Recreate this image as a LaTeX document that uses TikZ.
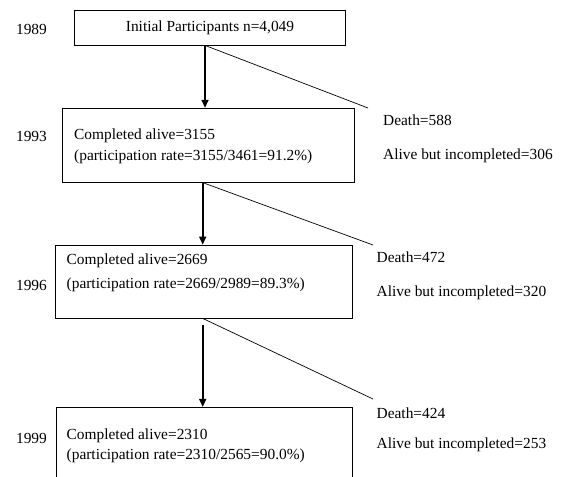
\documentclass[tikz,border=0pt]{standalone}
\usepackage{fontspec}
\setmainfont{Liberation Serif}
\usetikzlibrary{calc,arrows.meta}

\begin{document}
\begin{tikzpicture}[x=1pt,y=-1pt,font=\fontsize{15.4}{18.6}\selectfont]
      \useasboundingbox (0,0) rectangle (563,477);
      \clip (0,0) rectangle (563,477);
      % wave boxes
      \node (b89) [rectangle,draw=black,line width=0.8pt,minimum width=271pt,minimum height=35pt] at (210,27.5) {Initial Participants n=4,049};
      \node (b93) [rectangle,draw=black,line width=0.8pt,minimum width=292pt,minimum height=74pt] at (208.8,145.2) {};
      \node (b96) [rectangle,draw=black,line width=0.8pt,minimum width=297pt,minimum height=73pt] at (203.7,281.5) {};
      \node (b99) [rectangle,draw=black,line width=0.8pt,minimum width=296pt,minimum height=80pt] at (204.2,447.3) {};
      \node (t93) [anchor=west,align=left,inner sep=0] at (74,146.5) {Completed alive=3155\\[2.4pt](participation rate=3155/3461=91.2\%)};
      \node (t96) [anchor=west,align=left,inner sep=0] at (66.5,273) {Completed alive=2669\\[5.4pt](participation rate=2669/2989=89.3\%)};
      \node (t99) [anchor=west,align=left,inner sep=0] at (66.5,446) {Completed alive=2310\\[1.4pt](participation rate=2310/2565=90.0\%)};
      % years
      \foreach \y/\h in {89/29,93/136,96/285,99/438}{
        \node (y\y) at (31.5,\h) {19\y};
      }
      % losses
      \coordinate (d93) at (368,108);
      \coordinate (d96) at (373,245);
      \coordinate (d99) at (373,399);
      \node (m93) [anchor=west,inner sep=0] at (383,120) {Death=588};
      \node (a93) [anchor=west,inner sep=0] at (383,156) {Alive but incompleted=306};
      \node (m96) [anchor=west,inner sep=0] at (376.5,257) {Death=472};
      \node (a96) [anchor=west,inner sep=0] at (376.5,293) {Alive but incompleted=320};
      \node (m99) [anchor=west,inner sep=0] at (376.5,413) {Death=424};
      \node (a99) [anchor=west,inner sep=0] at (376.5,445) {Alive but incompleted=253};
      \foreach \a/\b/\s/\t/\g in {89/93/-5/-3.8/0,93/96/-6.1/-1/0,96/99/-1/-1.5/7}{
        \draw [line width=1.6pt,shorten <=\g pt,-{Triangle[width=7pt,length=8pt]}] ($ (b\a.south)+(\s,0) $) -- ($ (b\b.north)+(\t,0) $);
        \draw [line width=0.7pt] ($ (b\a.south)+(\s,0) $) -- (d\b);
      }
    \end{tikzpicture}
\end{document}
